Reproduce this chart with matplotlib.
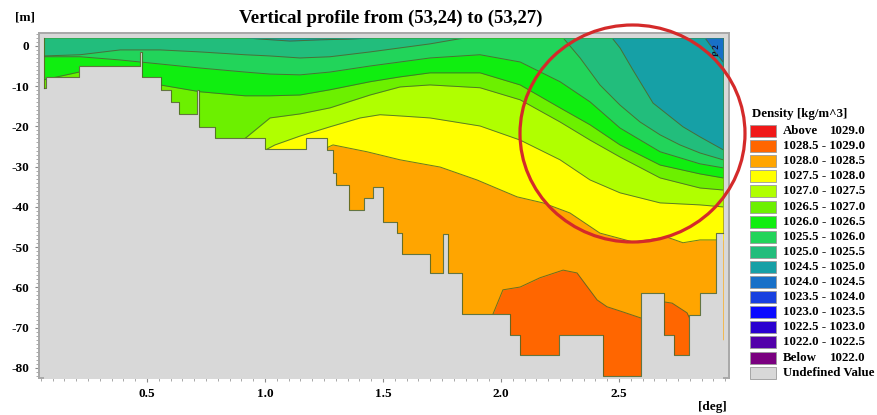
import numpy as np
import matplotlib
matplotlib.use("Agg")
import matplotlib.pyplot as plt
from matplotlib.patches import Rectangle, Ellipse
from matplotlib.ticker import MultipleLocator, FixedLocator, FormatStrFormatter

plt.rcParams['font.family'] = ['Liberation Serif', 'DejaVu Serif']
plt.rcParams['font.weight'] = 'bold'
plt.rcParams['axes.unicode_minus'] = False

# ---------------------------------------------------------------- data
title = "Vertical profile from (53,24) to (53,27)"
surface = 2.0            # sea surface level of the section [m]
section_start = 0.064    # first station [deg]
section_end = 2.941      # last station [deg]

# Isopycnal depths along the section: distance [deg], depth [m].
# A depth equal to the surface level means the layer is absent there.
iso_1024_5_x = [0.064, 2.864, 2.907, 2.941]
iso_1024_5_z = [2.0, 2.0, -1.5, -4.0]

iso_1025_0_x = [0.064, 0.915, 0.979, 1.106, 1.233, 1.360, 1.466, 2.470, 2.504,
                2.559, 2.644, 2.771, 2.843, 2.941]
iso_1025_0_z = [2.0, 2.0, 1.7, 1.2, 1.5, 1.7, 2.0, 2.0, -0.5,
                -6.0, -14.2, -20.1, -22.6, -25.8]

iso_1025_5_x = [0.064, 0.216, 0.386, 0.555, 0.725, 0.915, 1.021, 1.148, 1.275,
                1.445, 1.572, 1.699, 1.847, 2.263, 2.335, 2.419, 2.504, 2.589,
                2.674, 2.758, 2.843, 2.941]
iso_1025_5_z = [-2.5, -2.2, -1.0, -1.0, -1.5, -2.2, -2.5, -3.0, -2.7,
                -1.5, -0.5, 0.5, 2.0, 2.0, -3.0, -9.7, -14.7, -18.9,
                -22.1, -24.6, -26.6, -28.3]

iso_1026_0_x = [0.064, 0.216, 0.386, 0.555, 0.725, 0.915, 1.021, 1.148, 1.275,
                1.445, 1.572, 1.699, 1.911, 2.081, 2.250, 2.377, 2.504, 2.674,
                2.843, 2.941]
iso_1026_0_z = [-2.7, -2.7, -3.5, -4.5, -5.5, -6.5, -7.0, -7.2, -6.5,
                -5.0, -4.0, -3.0, -2.2, -4.0, -8.9, -13.9, -20.4, -26.3,
                -29.3, -30.3]

iso_1026_5_x = [0.064, 0.212, 0.386, 0.555, 0.725, 0.915, 1.021, 1.148, 1.275,
                1.445, 1.572, 1.699, 1.911, 2.081, 2.250, 2.377, 2.504, 2.674,
                2.843, 2.941]
iso_1026_5_z = [-8.4, -6.5, -7.2, -9.7, -11.4, -12.4, -12.4, -12.2, -10.9,
                -8.9, -7.7, -6.7, -6.7, -9.7, -15.4, -19.6, -24.6, -29.6,
                -31.8, -32.8]

iso_1027_0_x = [0.064, 0.725, 0.915, 1.021, 1.148, 1.275, 1.445, 1.572, 1.699,
                1.911, 2.081, 2.250, 2.377, 2.504, 2.674, 2.843, 2.941]
iso_1027_0_z = [-23.5, -23.5, -23.0, -17.9, -16.9, -15.4, -12.2, -10.2, -9.7,
                -10.4, -13.4, -18.9, -23.4, -27.6, -32.8, -35.3, -35.8]

iso_1027_5_x = [0.064, 0.987, 1.042, 1.148, 1.275, 1.403, 1.487, 1.572, 1.699,
                1.911, 2.081, 2.250, 2.377, 2.504, 2.674, 2.843, 2.941]
iso_1027_5_z = [-28.3, -26.3, -24.6, -22.4, -20.1, -17.9, -17.1, -17.4, -17.9,
                -19.9, -23.4, -28.3, -33.3, -36.5, -39.0, -39.5, -40.0]

iso_1028_0_x = [0.064, 1.148, 1.288, 1.432, 1.572, 1.742, 1.898, 2.068, 2.178,
                2.292, 2.419, 2.559, 2.703, 2.771, 2.843, 2.941]
iso_1028_0_z = [-30.8, -28.3, -24.6, -26.3, -28.3, -30.1, -33.3, -37.5, -39.0,
                -41.5, -46.5, -48.7, -47.5, -48.9, -48.2, -48.2]

iso_1028_5_x = [0.064, 1.911, 1.966, 2.008, 2.081, 2.165, 2.263, 2.322, 2.407,
                2.449, 2.517, 2.593, 2.653, 2.691, 2.725, 2.788, 2.843, 2.941]
iso_1028_5_z = [-73.0, -70.6, -66.6, -60.6, -59.9, -57.6, -55.7, -56.4, -63.1,
                -64.8, -66.1, -67.6, -66.1, -63.6, -63.9, -66.3, -73.0, -73.0]

# Sea bed: left edge of each grid column [deg] and its bottom depth [m]
bed_left = [0.064, 0.072, 0.212, 0.470, 0.479, 0.559, 0.602, 0.636, 0.712,
            0.720, 0.788, 1.000, 1.174, 1.263, 1.288, 1.301, 1.356, 1.419,
            1.458, 1.500, 1.559, 1.581, 1.699, 1.754, 1.775, 1.835, 2.038,
            2.081, 2.246, 2.432, 2.593, 2.691, 2.733, 2.797, 2.843, 2.911]
bed_depth = [-10.4, -7.7, -5.0, -1.5, -7.7, -10.9, -13.9, -16.9, -10.9,
             -20.1, -22.9, -25.6, -22.9, -25.8, -31.6, -34.5, -40.7, -37.8,
             -35.0, -43.7, -46.5, -51.7, -56.4, -46.7, -56.4, -66.6, -71.8,
             -76.8, -71.8, -82.0, -61.4, -71.8, -76.8, -66.8, -61.4, -46.5]

# Density classes [kg/m^3] and their colours
legend_labels = ["Above", "1028.5 - 1029.0", "1028.0 - 1028.5", "1027.5 - 1028.0",
                 "1027.0 - 1027.5", "1026.5 - 1027.0", "1026.0 - 1026.5",
                 "1025.5 - 1026.0", "1025.0 - 1025.5", "1024.5 - 1025.0",
                 "1024.0 - 1024.5", "1023.5 - 1024.0", "1023.0 - 1023.5",
                 "1022.5 - 1023.0", "1022.0 - 1022.5", "Below", "Undefined Value"]
legend_values = ["1029.0", "", "", "", "", "", "", "", "", "", "", "", "", "", "",
                 "1022.0", ""]
legend_colors = ["#f01818", "#ff6600", "#ffa500", "#ffff00", "#b0ff00", "#6cf000",
                 "#10ee10", "#22d45a", "#22bd7c", "#16a0a6", "#1870c8", "#1840e0",
                 "#0a0aff", "#2a00d0", "#5200aa", "#7a0080", "#d8d8d8"]

x_ticks = [0.5, 1.0, 1.5, 2.0, 2.5]

# ---------------------------------------------------------------- figure
W, H = 877, 415
undefined_color = legend_colors[-1]
line_color = "#4f6428"

fig = plt.figure(figsize=(W / 100, H / 100), dpi=100)
ax = fig.add_axes([39 / W, 1 - 378 / H, 690 / W, 345 / H])
ax.set_facecolor(undefined_color)
ax.set_xlim(0.042, 2.966)
ax.set_ylim(-82.5, 3.2)

# deepest class fills the whole water column first
ax.fill_between([section_start, section_end], -90, surface,
                color=legend_colors[1], lw=0, zorder=1)

# each isopycnal: paint the lighter class lying above it
isopycnals = [
    (iso_1028_5_x, iso_1028_5_z, legend_colors[2]),
    (iso_1028_0_x, iso_1028_0_z, legend_colors[3]),
    (iso_1027_5_x, iso_1027_5_z, legend_colors[4]),
    (iso_1027_0_x, iso_1027_0_z, legend_colors[5]),
    (iso_1026_5_x, iso_1026_5_z, legend_colors[6]),
    (iso_1026_0_x, iso_1026_0_z, legend_colors[7]),
    (iso_1025_5_x, iso_1025_5_z, legend_colors[8]),
    (iso_1025_0_x, iso_1025_0_z, legend_colors[9]),
    (iso_1024_5_x, iso_1024_5_z, legend_colors[10]),
]
for xs, zs, col in isopycnals:
    ax.fill_between(xs, zs, surface, color=col, lw=0, zorder=1)

# contour lines, hidden where the isopycnal runs along the surface
for xs, zs, col in isopycnals:
    (ln,) = ax.plot(xs, zs, color=line_color, lw=0.7, alpha=0.85, zorder=2)
    clip = Rectangle((section_start, -90), section_end - section_start,
                     90 + surface - 0.2, transform=ax.transData)
    ln.set_clip_path(clip)

# sea bed
edges = bed_left + [section_end]
depths = bed_depth + [bed_depth[-1]]
ax.fill_between(edges, depths, -90, step='post', color=undefined_color,
                lw=0, zorder=3)
ax.step(edges, depths, where='post', color=line_color, lw=0.8, alpha=0.85,
        zorder=4)
ax.plot([section_start, section_start], [surface, bed_depth[0]],
        color=line_color, lw=0.8, alpha=0.85, zorder=4)
ax.plot([section_end, section_end], [surface, bed_depth[-1]],
        color=line_color, lw=0.6, alpha=0.5, zorder=4)
ax.plot([section_start, section_end], [surface, surface],
        color=line_color, lw=0.5, alpha=0.4, zorder=4)

# station label at the end of the section
ax.text(2.915, -1.0, "P 2", rotation=90, fontsize=6.5, color="#0a0a30",
        ha='center', va='center', zorder=5)

# axes styling
ax.xaxis.set_major_locator(FixedLocator(x_ticks))
ax.xaxis.set_major_formatter(FormatStrFormatter('%.1f'))
ax.xaxis.set_minor_locator(MultipleLocator(0.05))
ax.yaxis.set_major_locator(MultipleLocator(10))
ax.yaxis.set_major_formatter(FormatStrFormatter('%d'))
ax.yaxis.set_minor_locator(MultipleLocator(1))
ax.tick_params(which='major', direction='out', length=3, width=0.8,
               color='#8a8a8a', labelsize=9.5, pad=4)
ax.tick_params(which='minor', direction='out', length=2, width=0.6,
               color='#9a9a9a')
for lab in ax.get_xticklabels() + ax.get_yticklabels():
    lab.set_fontweight('bold')
for sp in ax.spines.values():
    sp.set_color('#a8a8a8')
    sp.set_linewidth(1.4)

# titles and unit labels
fig.text(391 / W, 1 - 18 / H, title, ha='center', va='center',
         fontsize=13.5, fontweight='bold')
fig.text(25 / W, 1 - 18 / H, "[m]", ha='center', va='center',
         fontsize=9.5, fontweight='bold')
fig.text(712 / W, 1 - 407 / H, "[deg]", ha='center', va='center',
         fontsize=9.5, fontweight='bold')

# legend
fig.text(752 / W, 1 - 114 / H, "Density [kg/m^3]", ha='left', va='center',
         fontsize=9.3, fontweight='bold')
for k, (lab, val, col) in enumerate(zip(legend_labels, legend_values, legend_colors)):
    yc = 131 + 15.1 * k
    fig.add_artist(Rectangle((750 / W, 1 - (yc + 6) / H), 26 / W, 12 / H,
                             facecolor=col, edgecolor='#9a9a9a', lw=0.6,
                             transform=fig.transFigure))
    fig.text(783 / W, 1 - yc / H, lab, ha='left', va='center',
             fontsize=9.3, fontweight='bold')
    if val:
        fig.text(866 / W, 1 - yc / H, val, ha='right', va='center',
                 fontsize=9.3, fontweight='bold')

# highlight ring
fig.add_artist(Ellipse((632.5 / W, 1 - 133.5 / H), 225 / W, 217 / H,
                       fill=False, edgecolor='#d42a2a', lw=2.3,
                       transform=fig.transFigure, zorder=10))

fig.savefig("out.png", dpi=100)
